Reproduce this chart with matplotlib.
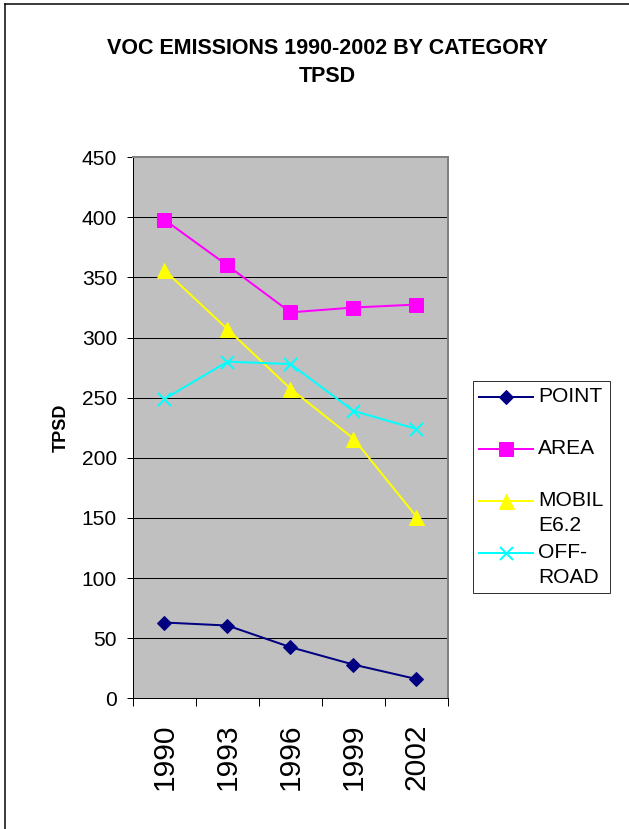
import numpy as np
import matplotlib.pyplot as plt
from matplotlib.lines import Line2D

plt.rcParams['font.family'] = ['Liberation Sans', 'DejaVu Sans']

years = ["1990", "1993", "1996", "1999", "2002"]
point = [63, 60.5, 42.5, 28, 16]
area = [398, 360, 321, 325, 327.5]
mobile = [356, 307, 257.5, 216, 151]
offroad = [249, 280, 278, 239, 224]

DPI = 72
fig = plt.figure(figsize=(629 / DPI, 829 / DPI), dpi=DPI)
ax = fig.add_axes([0.2114, 0.1577, 0.5008, 0.6526])
ax.set_facecolor("#C0C0C0")

x = np.arange(len(years))
# trailing newline keeps every legend row two lines tall, like the Excel legend
ax.plot(x, point, color="#000080", lw=2, marker="D", ms=9.5, label="POINT\n")
ax.plot(x, area, color="#FF00FF", lw=2, marker="s", ms=14.5, label="AREA\n")
ax.plot(x, mobile, color="#FFFF00", lw=2, marker="^", ms=15, label="MOBIL\nE6.2")
ax.plot(x, offroad, color="#00FFFF", lw=2, marker="x", ms=13, mew=2, label="OFF-\nROAD")

ax.set_xlim(-0.5, len(years) - 0.5)
ax.set_ylim(0, 450)
ax.set_yticks(np.arange(0, 451, 50))
ax.yaxis.grid(True, color="black", lw=1)
ax.set_axisbelow(True)
ax.tick_params(axis="y", direction="out", length=6, width=1, pad=10, labelsize=21)

ax.set_xticks(x)
ax.set_xticklabels(years, rotation=90, fontsize=30)
ax.set_xticks(np.arange(-0.5, len(years)), minor=True)
ax.tick_params(axis="x", which="major", length=0, pad=25)
ax.tick_params(axis="x", which="minor", direction="out", length=8, width=1)

for side in ["top", "right"]:
    ax.spines[side].set_color("#808080")
    ax.spines[side].set_linewidth(2)
for side in ["left", "bottom"]:
    ax.spines[side].set_color("black")
    ax.spines[side].set_linewidth(1)

ax.set_ylabel("TPSD", fontsize=18, fontweight="bold", labelpad=12)

fig.text(0.52, 1 - 48 / 829, "VOC EMISSIONS 1990-2002 BY CATEGORY", ha="center", va="center",
         fontsize=21.5, fontweight="bold")
fig.text(0.52, 1 - 77 / 829, "TPSD", ha="center", va="center", fontsize=21.5, fontweight="bold")

leg = fig.legend(loc="upper left", bbox_to_anchor=(472.7 / 629, 1 - 380.7 / 829),
                 fontsize=21, handlelength=2.57, handletextpad=0.24, labelspacing=0.41,
                 borderpad=0.3, frameon=True, fancybox=False, borderaxespad=0)
leg.get_frame().set_edgecolor("black")
leg.get_frame().set_linewidth(1)
for t in leg.get_texts():
    t.set_linespacing(1.37)
# put each legend symbol level with the first line of its label
for ln in leg.get_lines():
    ln.set_ydata(np.asarray(ln.get_ydata()) + 12)

# outer chart border (left and top only visible)
fig.add_artist(Line2D([5 / 629, 5 / 629], [0, 1 - 4 / 829], color="black", lw=1.5))
fig.add_artist(Line2D([5 / 629, 1], [1 - 4 / 829, 1 - 4 / 829], color="black", lw=1.5))

plt.savefig("out.png", dpi=DPI)
